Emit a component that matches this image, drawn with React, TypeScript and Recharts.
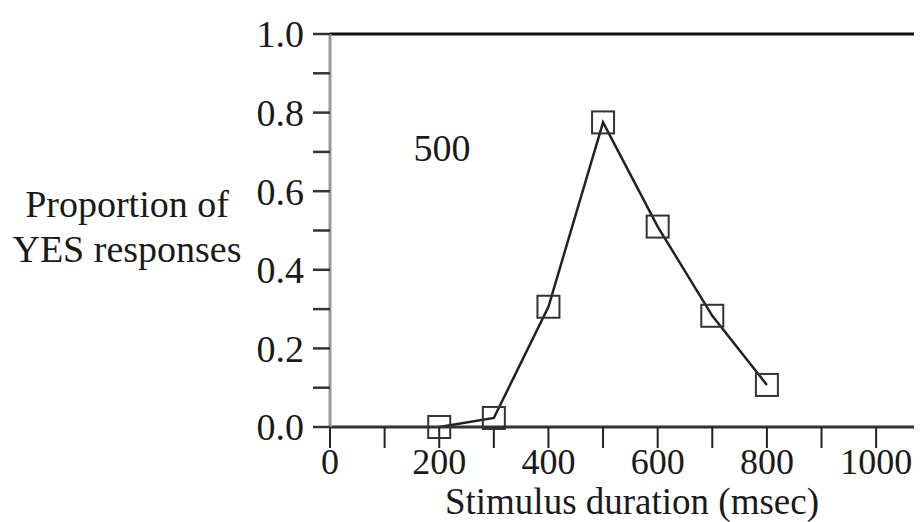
import React from 'react';
import { LineChart, Line, XAxis, YAxis, ReferenceLine, ReferenceDot } from 'recharts';

const durations = [200, 300, 400, 500, 600, 700, 800];
const proportions = [0.0, 0.023, 0.306, 0.775, 0.51, 0.283, 0.107];
const xTicks = [0, 100, 200, 300, 400, 500, 600, 700, 800, 900, 1000];
const yTicks = [0, 0.1, 0.2, 0.3, 0.4, 0.5, 0.6, 0.7, 0.8, 0.9, 1.0];
const conditionLabel = '500';
const conditionLabelPos = { x: 205, y: 0.71 };
const xLabel = 'Stimulus duration (msec)';
const yLabelLines = ['Proportion of', 'YES responses'];

const data = durations.map((d, i) => ({ duration: d, proportion: proportions[i] }));

const FONT = '"Liberation Serif", "Times New Roman", serif';
const FS = 38;
const XFS = 36;
const TEXT = '#1a1a1a';

const SquareDot = (props: any) => {
  const { cx, cy, index } = props;
  if (cx == null || cy == null) return null;
  return (
    <rect key={`sq-${index}`} x={cx - 11} y={cy - 11} width={22} height={22} fill="none" stroke="#333" strokeWidth={2} />
  );
};

const YLabel = (props: any) => {
  const vb = props.viewBox || { x: 0, y: 0 };
  return (
    <g>
      <text x={vb.x + 119} y={vb.y + 183} textAnchor="middle" fontFamily={FONT} fontSize={FS} fill={TEXT}>
        {yLabelLines[0]}
      </text>
      <text x={vb.x + 119} y={vb.y + 228} textAnchor="middle" fontFamily={FONT} fontSize={FS} fill={TEXT}>
        {yLabelLines[1]}
      </text>
    </g>
  );
};

const XLabel = (props: any) => {
  const vb = props.viewBox || { x: 0, y: 0, width: 0 };
  return (
    <text x={vb.x + vb.width / 2 + 6} y={vb.y + 87} textAnchor="middle" fontFamily={FONT} fontSize={XFS + 1} fill={TEXT}>
      {xLabel}
    </text>
  );
};

export default function App() {
  return (
    <LineChart width={914} height={514} data={data} margin={{ top: 26, right: 0, bottom: 0, left: 0 }}>
      <XAxis
        dataKey="duration"
        type="number"
        domain={[0, 1084]}
        ticks={xTicks}
        allowDataOverflow
        height={95}
        tickSize={21}
        tickMargin={0}
        tickFormatter={(v: number) => (v % 200 === 0 ? String(v) : '')}
        tick={{ fontFamily: FONT, fontSize: XFS, fill: TEXT }}
        axisLine={{ stroke: '#333', strokeWidth: 3 }}
        tickLine={{ stroke: '#222', strokeWidth: 2 }}
        label={{ content: XLabel }}
      />
      <YAxis
        type="number"
        domain={[0, 1]}
        ticks={yTicks}
        width={322}
        tickSize={17}
        tickMargin={9}
        tickFormatter={(v: number) => (Math.round(v * 10) % 2 === 0 ? v.toFixed(1) : '')}
        tick={{ fontFamily: FONT, fontSize: FS, fill: TEXT }}
        axisLine={{ stroke: '#999', strokeWidth: 3 }}
        tickLine={{ stroke: '#333', strokeWidth: 2.5 }}
        label={{ content: YLabel }}
      />
      <ReferenceLine y={1} stroke="#111" strokeWidth={3} />
      <ReferenceDot
        x={conditionLabelPos.x}
        y={conditionLabelPos.y}
        r={0}
        fill="none"
        stroke="none"
        label={{ value: conditionLabel, position: 'center', fontFamily: FONT, fontSize: FS, fill: TEXT }}
      />
      <Line
        type="linear"
        dataKey="proportion"
        stroke="#222"
        strokeWidth={2.5}
        dot={<SquareDot />}
        activeDot={false}
        isAnimationActive={false}
      />
    </LineChart>
  );
}
